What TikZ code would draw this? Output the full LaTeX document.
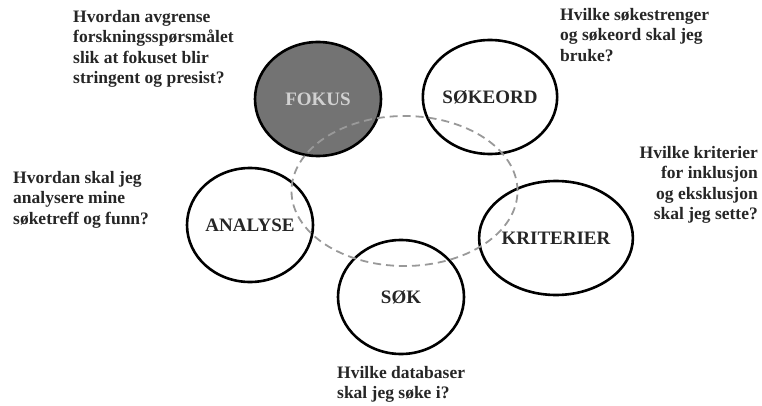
\documentclass[tikz,border=0pt]{standalone}
\usepackage{fontspec}
\setmainfont{Liberation Serif}
\usetikzlibrary{shapes.geometric}
\begin{document}
\begin{tikzpicture}[x=1pt,y=-1pt,
  stage/.style={ellipse,draw=black,line width=2.6pt,minimum width=126pt,minimum height=114pt,inner sep=0pt,font=\fontsize{19}{21}\selectfont\bfseries,text=black!85},
  ques/.style={font=\fontsize{17.5}{20.5}\selectfont\bfseries,text=black!85,inner sep=0pt},
  cyc/.style={ellipse,draw=black!40,dash pattern=on 8pt off 5pt,line width=1.8pt,minimum width=226pt,minimum height=150pt,inner sep=0pt}]
\useasboundingbox (0,0) rectangle (762,406);
% stages
\node[stage,fill=black!55,text=black!18] (fokus) at (318,99) {FOKUS};
\node[stage] (sokeord) at (490,97) {SØKEORD};
\node[stage] (analyse) at (250,225) {ANALYSE};
\node[stage] (sok) at (401,297) {SØK};
\node[stage] (kriterier) at (556,238) {KRITERIER};
% dashed cycle
\node[cyc] (cycle) at (404.5,191) {};
% questions
\node[ques,anchor=north west,align=left] (qfokus) at (73,10)
  {Hvordan avgrense\\forskningsspørsmålet\\slik at fokuset blir\\stringent og presist?};
\node[ques,anchor=north west,align=left] (qsokeord) at (560,8)
  {Hvilke søkestrenger\\og søkeord skal jeg\\bruke?};
\node[ques,anchor=north west,align=left] (qanalyse) at (13,171)
  {Hvordan skal jeg\\analysere mine\\søketreff og funn?};
\node[ques,anchor=north east,align=right] (qkrit) at (758,146)
  {Hvilke kriterier\\for inklusjon\\og eksklusjon\\skal jeg sette?};
\node[ques,anchor=north west,align=left] (qsok) at (337,366)
  {Hvilke databaser\\skal jeg søke i?};
\end{tikzpicture}
\end{document}
